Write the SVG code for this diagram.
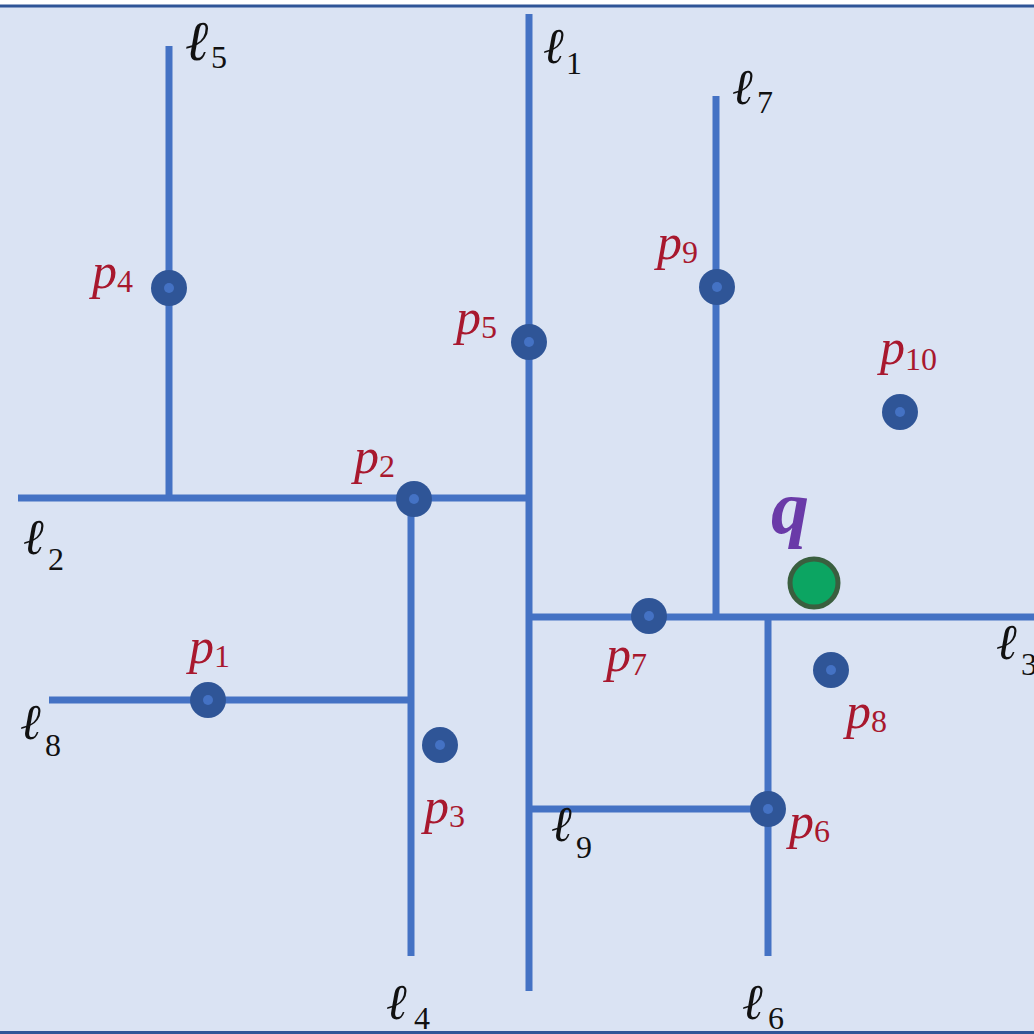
<svg xmlns="http://www.w3.org/2000/svg" width="1034" height="1034" viewBox="0 0 1034 1034">
<style>
.ln{stroke:#4472c4;stroke-width:7;fill:none}
.pt{fill:#2f5597}
.pi{fill:#4472c4}
.pl{font-family:"Liberation Serif",serif;font-style:italic;font-size:50px;fill:#a8182e}
.ll{font-family:"Liberation Serif",serif;font-style:italic;font-size:50px;fill:#111}
.sb{font-family:"Liberation Serif",serif;font-style:normal;font-size:32px}
.q{font-family:"Liberation Serif",serif;font-style:italic;font-weight:bold;font-size:76px;fill:#6a3aa8}
.bd{stroke:#2f5597;stroke-width:3}
</style>
<rect x="0" y="0" width="1034" height="1034" fill="#ffffff"/>
<rect x="0" y="6" width="1034" height="1028" fill="#dae3f3"/>
<g id="connectors">
<line class="ln" x1="529" y1="14" x2="529" y2="991"/>
<line class="ln" x1="18" y1="498" x2="529" y2="498"/>
<line class="ln" x1="169" y1="46" x2="169" y2="498"/>
<line class="ln" x1="411" y1="498" x2="411" y2="956"/>
<line class="ln" x1="49" y1="700" x2="411" y2="700"/>
<line class="ln" x1="529" y1="617" x2="1034" y2="617"/>
<line class="ln" x1="716" y1="96" x2="716" y2="617"/>
<line class="ln" x1="768" y1="617" x2="768" y2="956"/>
<line class="ln" x1="529" y1="809" x2="768" y2="809"/>
</g>
<g id="lines-labels">
<text class="ll" x="185" y="60" style="font-size:56px">ℓ<tspan class="sb" x="211" y="68">5</tspan></text>
<text class="ll" x="543" y="63">ℓ<tspan class="sb" x="566" y="74">1</tspan></text>
<text class="ll" x="732" y="104">ℓ<tspan class="sb" x="757" y="113">7</tspan></text>
<text class="ll" x="23" y="554">ℓ<tspan class="sb" x="48" y="570">2</tspan></text>
<text class="ll" x="20" y="739">ℓ<tspan class="sb" x="45" y="756">8</tspan></text>
<text class="ll" x="551" y="841">ℓ<tspan class="sb" x="576" y="858">9</tspan></text>
<text class="ll" x="386" y="1019">ℓ<tspan class="sb" x="414" y="1029">4</tspan></text>
<text class="ll" x="742" y="1019">ℓ<tspan class="sb" x="768" y="1029">6</tspan></text>
<text class="ll" x="996" y="659">ℓ<tspan class="sb" x="1021" y="675">3</tspan></text>
</g>
<g id="p4"><circle class="pt" cx="169" cy="288" r="18"/><circle class="pi" cx="169" cy="288" r="5"/><text class="pl" x="92" y="288">p<tspan class="sb" dy="4">4</tspan></text></g>
<g id="p5"><circle class="pt" cx="529" cy="342" r="18"/><circle class="pi" cx="529" cy="342" r="5"/><text class="pl" x="456" y="334">p<tspan class="sb" dy="4">5</tspan></text></g>
<g id="p9"><circle class="pt" cx="717" cy="287" r="18"/><circle class="pi" cx="717" cy="287" r="5"/><text class="pl" x="657" y="259">p<tspan class="sb" dy="4">9</tspan></text></g>
<g id="p10"><circle class="pt" cx="900" cy="412" r="18"/><circle class="pi" cx="900" cy="412" r="5"/><text class="pl" x="880" y="364">p<tspan class="sb" dy="6">10</tspan></text></g>
<g id="p2"><circle class="pt" cx="414" cy="499" r="18"/><circle class="pi" cx="414" cy="499" r="5"/><text class="pl" x="354" y="473">p<tspan class="sb" dy="4">2</tspan></text></g>
<g id="p7"><circle class="pt" cx="649" cy="616" r="18"/><circle class="pi" cx="649" cy="616" r="5"/><text class="pl" x="606" y="671">p<tspan class="sb" dy="4">7</tspan></text></g>
<g id="p1"><circle class="pt" cx="208" cy="700" r="18"/><circle class="pi" cx="208" cy="700" r="5"/><text class="pl" x="189" y="663">p<tspan class="sb" dy="4">1</tspan></text></g>
<g id="p3"><circle class="pt" cx="440" cy="745" r="18"/><circle class="pi" cx="440" cy="745" r="5"/><text class="pl" x="424" y="823">p<tspan class="sb" dy="4">3</tspan></text></g>
<g id="p8"><circle class="pt" cx="831" cy="670" r="18"/><circle class="pi" cx="831" cy="670" r="5"/><text class="pl" x="846" y="728">p<tspan class="sb" dy="4">8</tspan></text></g>
<g id="p6"><circle class="pt" cx="768" cy="809" r="18"/><circle class="pi" cx="768" cy="809" r="5"/><text class="pl" x="789" y="838">p<tspan class="sb" dy="4">6</tspan></text></g>
<g id="q"><circle cx="814" cy="583" r="24" fill="#0ca562" stroke="#3a5f3f" stroke-width="5"/><text class="q" x="771" y="533">q</text></g>
<line class="bd" x1="0" y1="6" x2="1034" y2="6"/>
<line class="bd" x1="0" y1="1032.5" x2="1034" y2="1032.5"/>
</svg>
